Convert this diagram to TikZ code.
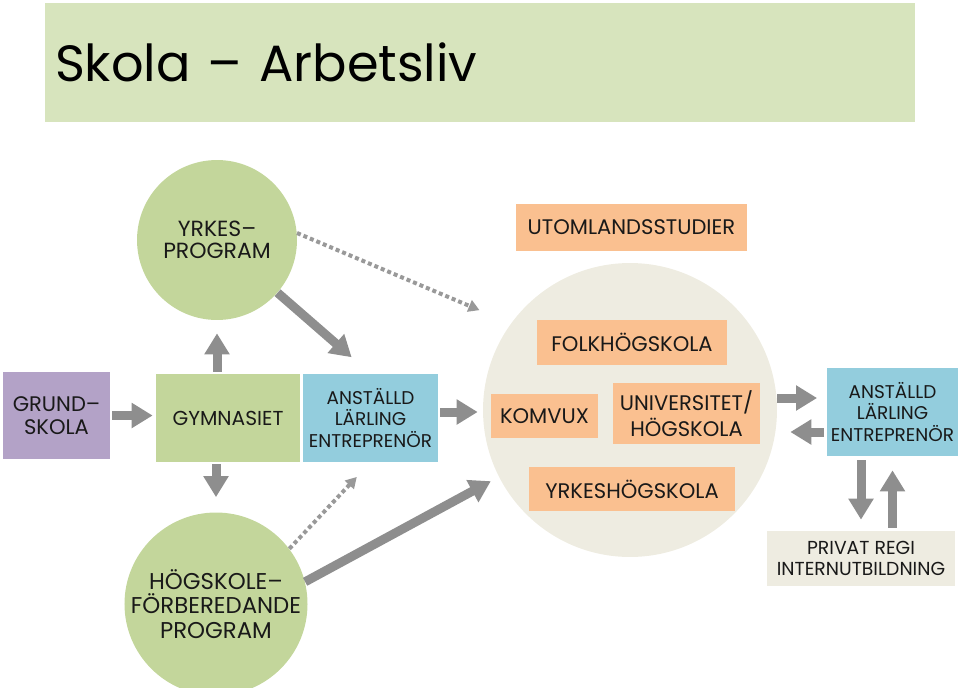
\documentclass[tikz,border=0pt]{standalone}
\usepackage{fontspec}
\setmainfont{Poppins}
\usetikzlibrary{arrows.meta, calc}

\definecolor{titlegreen}{HTML}{D7E4BD}
\definecolor{progreen}{HTML}{C3D69B}
\definecolor{boxblue}{HTML}{93CDDD}
\definecolor{boxpurple}{HTML}{B3A2C7}
\definecolor{boxorange}{HTML}{FAC090}
\definecolor{beige}{HTML}{EEECE1}
\definecolor{arrowgray}{HTML}{8E8E8E}
\definecolor{dotgray}{HTML}{999999}

\begin{document}
\begin{tikzpicture}[
    x=0.02cm, y=-0.02cm,
    font=\fontsize{10.5}{12.5}\selectfont,
    box/.style={rectangle, inner sep=2pt, align=center, text=black!90},
    orangebox/.style={box, fill=boxorange, font=\fontsize{12}{15}\selectfont},
    bluebox/.style={box, fill=boxblue, minimum width=2.7cm, minimum height=1.76cm},
    roundnode/.style={circle, fill=progreen, align=center, inner sep=0pt, text=black!90},
    bigarrow/.style={-{Triangle[width=0.48cm, length=0.42cm]}, line width=0.18cm, draw=arrowgray},
    dotarrow/.style={-{Triangle[width=0.24cm, length=0.22cm]}, line width=0.08cm, draw=dotgray, dash pattern=on 0.08cm off 0.06cm}
]
\useasboundingbox (0,0) rectangle (960,687);
\clip (0,0) rectangle (960,687);

% Title bar
\node[fill=titlegreen, minimum width=17.4cm, minimum height=2.38cm, text width=17.0cm, inner xsep=0.2cm, align=left, font=\fontsize{29}{34}\selectfont] (title) at (480,62.5) {Skola – Arbetsliv};

% Left column: school
\node[box, fill=boxpurple, minimum width=2.14cm, minimum height=1.74cm, font=\fontsize{12}{13.5}\selectfont] (grund) at (56.5,415.5) {GRUND–\\SKOLA};
\node[box, fill=progreen, minimum width=2.88cm, minimum height=1.76cm, font=\fontsize{11.5}{13.5}\selectfont] (gym) at (228,418) {GYMNASIET};
\node[bluebox] (anstA) at (370.5,418) {ANSTÄLLD\\LÄRLING\\ENTREPRENÖR};
\node[roundnode, minimum size=3.2cm, font=\fontsize{12.5}{12.8}\selectfont] (yrkes) at (217,240) {YRKES–\\PROGRAM};
\node[roundnode, minimum size=3.64cm, font=\fontsize{13}{14}\selectfont] (hogsk) at (216,604) {HÖGSKOLE–\\FÖRBEREDANDE\\PROGRAM};

% Middle: further studies
\node[orangebox, minimum width=4.62cm, minimum height=0.94cm] (utland) at (631.5,227.5) {UTOMLANDSSTUDIER};
\node[circle, fill=beige, minimum size=5.88cm] (studier) at (630,410) {};
\node[orangebox, minimum width=3.8cm, minimum height=0.9cm] (folk) at (632,342.5) {FOLKHÖGSKOLA};
\node[orangebox, minimum width=2.14cm, minimum height=0.88cm] (komvux) at (544.5,416) {KOMVUX};
\node[orangebox, minimum width=2.94cm, minimum height=1.22cm] (univ) at (686.5,413.5) {UNIVERSITET/\\HÖGSKOLA};
\node[orangebox, minimum width=4.12cm, minimum height=0.88cm] (yh) at (632,489) {YRKESHÖGSKOLA};

% Right column: work
\node[bluebox, minimum width=2.58cm] (anstB) at (892.5,412) {ANSTÄLLD\\LÄRLING\\ENTREPRENÖR};
\node[box, fill=beige, minimum width=3.76cm, minimum height=1.1cm, font=\fontsize{10.7}{12}\selectfont] (privat) at (861,558.5) {PRIVAT REGI\\INTERNUTBILDNING};

% Connections
\draw[bigarrow, shorten <=0.04cm, shorten >=0.06cm] (grund.east) -- (grund.east -| gym.west);
\draw[bigarrow, shorten <=0.04cm, shorten >=0.26cm] (gym.north -| yrkes.south) -- (yrkes.south);
\draw[bigarrow, shorten <=0.04cm, shorten >=0.3cm] (gym.south -| hogsk.north) -- (hogsk.north);
\draw[bigarrow, shorten >=0.5cm] (yrkes) -- (anstA.north);
\draw[dotarrow, shorten >=0.68cm] (yrkes.5) -- (studier.144);
\draw[bigarrow, shorten >=0.18cm] (hogsk.14) -- (studier.207);
\draw[dotarrow, shorten >=0.4cm] (hogsk.37) -- (anstA.south);
\draw[bigarrow, shorten <=0.04cm, shorten >=0.1cm] ([yshift=0.12cm]anstA.east) -- ([yshift=0.12cm]anstA.east -| studier.west);
\draw[bigarrow, shorten >=0.2cm] ([yshift=0.28cm]anstB.west -| studier.east) -- ([yshift=0.28cm]anstB.west);
\draw[bigarrow, shorten <=0.06cm, shorten >=0.26cm] ([yshift=-0.4cm]anstB.west) -- ([yshift=-0.4cm]anstB.west -| studier.east);
\draw[bigarrow, shorten <=0.08cm, shorten >=0.22cm] (anstB.south -| privat.north) -- (privat.north);
\draw[bigarrow, shorten <=0.06cm, shorten >=0.28cm] (privat.north -| anstB.south) -- (anstB.south);

\end{tikzpicture}
\end{document}
